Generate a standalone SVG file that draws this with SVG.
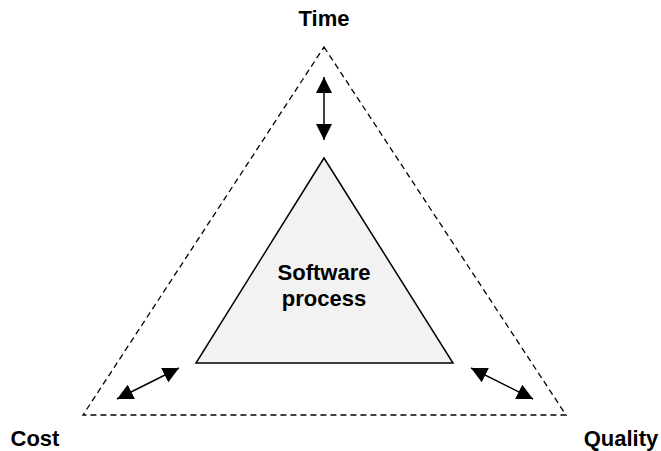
<svg xmlns="http://www.w3.org/2000/svg" width="661" height="451" viewBox="0 0 661 451">
<style>
.lbl{font-family:"Liberation Sans",Arial,sans-serif;font-weight:bold;font-size:22px;fill:#000;text-anchor:middle}
.dash{fill:none;stroke:#000;stroke-width:1.3;stroke-dasharray:6,4}
.inner{fill:#f2f2f2;stroke:#000;stroke-width:1.5}
.arr{stroke:#000;stroke-width:1.5;fill:none;marker-start:url(#ah);marker-end:url(#ah)}
</style>
<defs>
<marker id="ah" markerUnits="userSpaceOnUse" markerWidth="16" markerHeight="16" refX="16" refY="8" orient="auto-start-reverse">
<path d="M0,0 L16,8 L0,16 z" fill="#000"/>
</marker>
</defs>
<rect width="661" height="451" fill="#fff"/>
<g id="outer">
<polygon class="dash" points="324,47 566,415 83,415"/>
</g>
<g id="software-process">
<polygon class="inner" points="324,158 453,363 196,363"/>
<text class="lbl" x="324" y="280">Software</text>
<text class="lbl" x="324" y="306">process</text>
</g>
<g id="time"><text class="lbl" x="324" y="26">Time</text></g>
<g id="cost"><text class="lbl" x="35" y="446">Cost</text></g>
<g id="quality"><text class="lbl" x="621" y="446">Quality</text></g>
<g id="connectors">
<line class="arr" x1="324" y1="77" x2="324" y2="140"/>
<line class="arr" x1="117" y1="399" x2="179" y2="368"/>
<line class="arr" x1="471" y1="368" x2="533" y2="399"/>
</g>
</svg>
